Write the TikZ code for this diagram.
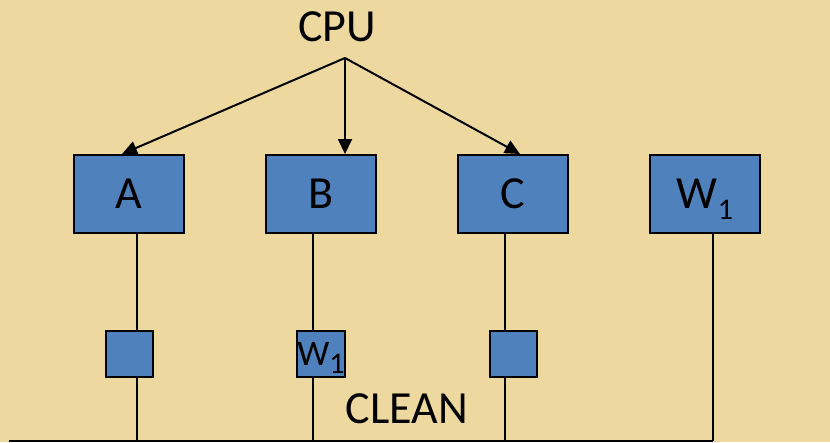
\documentclass[tikz,border=0pt]{standalone}
\usepackage{fontspec}
\setmainfont{Carlito}
\usetikzlibrary{arrows.meta, positioning}
\definecolor{parchment}{RGB}{237,217,160}
\definecolor{boxblue}{RGB}{79,129,189}
\newcommand{\wone}[3]{W\raisebox{-#3}[0pt][0pt]{\fontsize{#1}{#2}\selectfont 1}}

\begin{document}
\begin{tikzpicture}[
			x=1pt, y=-1pt,
			procbox/.style={rectangle, draw=black, line width=2pt, fill=boxblue, minimum width=110pt, minimum height=78pt, inner sep=0pt, font=\fontsize{46}{50}\selectfont},
			slotbox/.style={rectangle, draw=black, line width=2pt, fill=boxblue, minimum width=47pt, minimum height=46pt, inner sep=0pt, font=\fontsize{36}{40}\selectfont},
			label/.style={inner sep=0pt, font=\fontsize{46}{50}\selectfont},
			arrow/.style={-{Triangle[length=15pt, width=14pt]}, line width=2pt},
			wire/.style={line width=2pt}
			]
			
			% background
			\fill[parchment] (0,0) rectangle (830,442);
			\useasboundingbox (0,0) rectangle (830,442);
			
			\node[label] (cpu) at (337,27) {CPU};
			\coordinate (fork) at (345,58);
			
			\node[procbox] (a) at (129,194) {A};
			\node[procbox] (b) at (321,194) {B};
			\node[procbox] (c) at (513,194) {C};
			\node[procbox] (w) at (705,194) {\wone{30}{32}{11pt}};
			
			\draw[arrow] (fork) -- ([xshift=-7pt]a.north);
			\draw[arrow] (fork) -- ([xshift=24pt]b.north);
			\draw[arrow] (fork) -- ([xshift=7pt]c.north);
			
			% bus at the bottom
			\coordinate (busL) at (9,441);
			\coordinate (busR) at (713,441);
			\draw[wire] (busL) -- (busR);
			
			\draw[wire] ([xshift=8pt]a.south) -- ([xshift=8pt]a.south |- busL);
			\draw[wire] ([xshift=-8pt]b.south) -- ([xshift=-8pt]b.south |- busL);
			\draw[wire] ([xshift=-8pt]c.south) -- ([xshift=-8pt]c.south |- busL);
			\draw[wire] ([xshift=8pt]w.south) -- (busR);
			
			\node[slotbox] (sa) at (129,354) {};
			\node[slotbox] (sb) at (321,354) {\wone{30}{32}{8pt}};
			\node[slotbox] (sc) at (513,354) {};
			
			\node[label] (clean) at (407,409) {CLEAN};
		\end{tikzpicture}
\end{document}
